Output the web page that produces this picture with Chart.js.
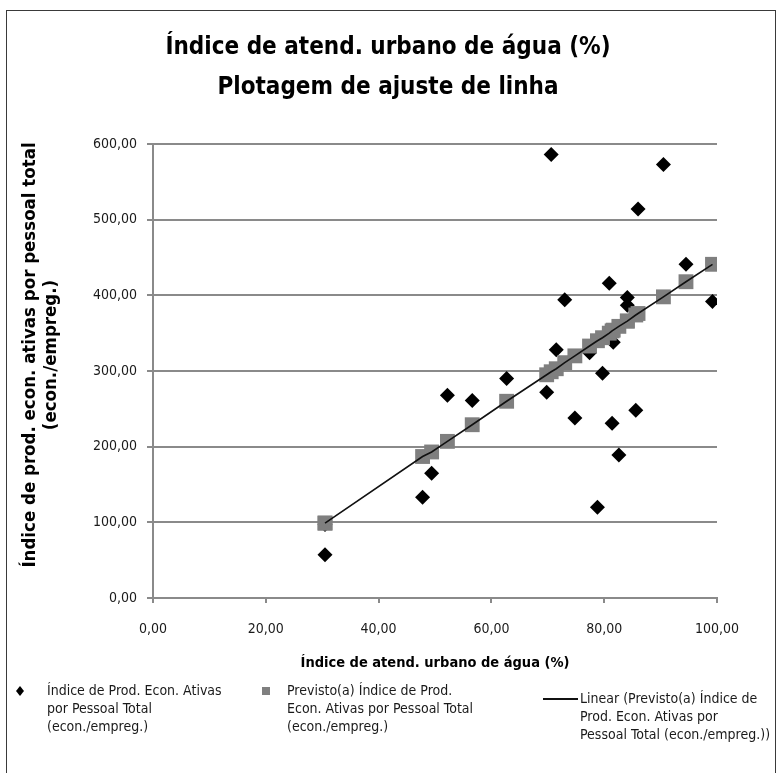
<!DOCTYPE html>
<html>
<head>
<meta charset="utf-8">
<script src="https://cdn.jsdelivr.net/npm/chart.js@4"></script>
<style>
  html, body { margin: 0; padding: 0; background: #fff; }
  #frame { position: absolute; left: 6px; top: 10px; width: 770px; height: 780px; border: 1px solid #3a3a3a; box-sizing: border-box; }
  #wrap { position: absolute; left: 0; top: 0; width: 784px; height: 773px; }
</style>
</head>
<body>
<div id="frame"></div>
<div id="wrap"><canvas id="c"></canvas></div>
<script>
// Índice de atendimento urbano de água (%) por município
const coverage = [30.5, 30.5, 47.8, 49.4, 52.2, 56.6, 62.7, 69.8, 70.6, 71.5, 73.0, 74.8, 77.4,
                  78.8, 79.7, 80.9, 81.4, 81.6, 82.6, 84.1, 84.1, 85.6, 86.0, 90.5, 94.5, 99.2];
// Índice de produtividade: economias ativas por pessoal total
const productivity = [57, 97, 133, 165, 268, 261, 290, 272, 586, 328, 394, 238, 324,
                      120, 297, 416, 231, 338, 189, 397, 387, 248, 514, 573, 441, 392];
// Valores previstos pela regressão linear
const predicted = [99, 99, 187, 193, 207, 229, 260, 295, 299, 303, 311, 320, 333,
                   340, 344, 350, 353, 354, 359, 366, 366, 374, 376, 398, 418, 441];

const titleLines = ['Índice de atend. urbano de água (%)', 'Plotagem de ajuste de linha'];
const xAxisTitle = 'Índice de atend. urbano de água (%)';
const yAxisTitle = ['Índice de prod. econ. ativas por pessoal total', '(econ./empreg.)'];
const seriesNames = [
  ['Índice de Prod. Econ. Ativas', 'por Pessoal Total', '(econ./empreg.)'],
  ['Previsto(a) Índice de Prod.', 'Econ. Ativas por Pessoal Total', '(econ./empreg.)'],
  ['Linear (Previsto(a) Índice de', 'Prod. Econ. Ativas por', 'Pessoal Total (econ./empreg.))']
];
const xTicks = [0, 20, 40, 60, 80, 100];
const yTicks = [0, 100, 200, 300, 400, 500, 600];

const NARROW = "'Liberation Sans Narrow', 'Arial Narrow', 'DejaVu Sans Condensed', sans-serif";
const GRID = '#8a8a8a';
const fmt = v => v.toFixed(2).replace('.', ',');

// Chart title (centred on the frame) and the two-line rotated y-axis title
const headings = {
  id: 'headings',
  afterDraw(chart) {
    const ctx = chart.ctx;
    ctx.save();
    ctx.fillStyle = '#000';
    ctx.textAlign = 'center';
    ctx.textBaseline = 'middle';
    ctx.font = 'bold 24px ' + NARROW;
    titleLines.forEach((t, k) => ctx.fillText(t, 388, 48 + k * 40));
    ctx.translate(30, 355);
    ctx.rotate(-Math.PI / 2);
    ctx.font = 'bold 18.5px ' + NARROW;
    yAxisTitle.forEach((t, k) => ctx.fillText(t, 0, k * 21));
    ctx.restore();
  }
};

// Legend drawn below the x-axis title, with wrapped multi-line entries
const legendLayout = [
  { marker: 'diamond', mx: 20, tx: 47, y: 691 },
  { marker: 'square',  mx: 266, tx: 287, y: 691 },
  { marker: 'line',    mx: 543, tx: 580, y: 699 }
];
const bottomLegend = {
  id: 'bottomLegend',
  afterDraw(chart) {
    const ctx = chart.ctx;
    ctx.save();
    ctx.font = '14px ' + NARROW;
    ctx.textBaseline = 'middle';
    ctx.textAlign = 'left';
    legendLayout.forEach((it, i) => {
      const ds = chart.data.datasets[i];
      if (it.marker === 'diamond') {
        ctx.fillStyle = ds.backgroundColor;
        ctx.beginPath();
        ctx.moveTo(it.mx, it.y - 5); ctx.lineTo(it.mx + 4, it.y);
        ctx.lineTo(it.mx, it.y + 5); ctx.lineTo(it.mx - 4, it.y);
        ctx.closePath(); ctx.fill();
      } else if (it.marker === 'square') {
        ctx.fillStyle = ds.backgroundColor;
        ctx.fillRect(it.mx - 4, it.y - 4, 8, 8);
      } else {
        ctx.strokeStyle = ds.borderColor;
        ctx.lineWidth = 2;
        ctx.beginPath(); ctx.moveTo(it.mx, it.y); ctx.lineTo(it.tx - 2, it.y); ctx.stroke();
      }
      ctx.fillStyle = '#1a1a1a';
      seriesNames[i].forEach((line, k) => ctx.fillText(line, it.tx, it.y + k * 18));
    });
    ctx.restore();
  }
};

new Chart(document.getElementById('c'), {
  type: 'scatter',
  data: {
    datasets: [
      {
        label: seriesNames[0].join(' '),
        data: coverage.map((x, i) => ({ x, y: productivity[i] })),
        pointStyle: 'rectRot',
        pointRadius: 7.5,
        backgroundColor: '#000000',
        borderColor: '#000000',
        borderWidth: 0,
        order: 3
      },
      {
        label: seriesNames[1].join(' '),
        data: coverage.map((x, i) => ({ x, y: predicted[i] })),
        pointStyle: 'rect',
        pointRadius: 10.5,
        backgroundColor: '#7f7f7f',
        borderColor: '#7f7f7f',
        borderWidth: 0,
        order: 2
      },
      {
        label: seriesNames[2].join(' '),
        data: coverage.map((x, i) => ({ x, y: predicted[i] })),
        showLine: true,
        pointRadius: 0,
        borderColor: '#111111',
        backgroundColor: '#111111',
        borderWidth: 1.6,
        order: 1
      }
    ]
  },
  options: {
    responsive: true,
    maintainAspectRatio: false,
    animation: false,
    events: [],
    layout: { padding: { left: 8, right: 67, top: 144, bottom: 93 } },
    plugins: {
      legend: { display: false },
      tooltip: { enabled: false },
      title: { display: false }
    },
    scales: {
      x: {
        type: 'linear',
        min: 0, max: 100,
        afterBuildTicks: s => { s.ticks = xTicks.map(v => ({ value: v })); },
        afterFit: s => { s.height = 82; },
        grid: { drawOnChartArea: false, drawTicks: true, tickLength: 5, color: GRID, lineWidth: 2 },
        border: { color: GRID, width: 2 },
        ticks: { color: '#1a1a1a', font: { family: NARROW, size: 14 }, padding: 18, callback: v => fmt(v), maxRotation: 0 },
        title: { display: true, text: xAxisTitle, color: '#000', font: { family: NARROW, size: 14.5, weight: 'bold' }, padding: { top: 10, bottom: 8 } }
      },
      y: {
        type: 'linear',
        min: 0, max: 600,
        afterBuildTicks: s => { s.ticks = yTicks.map(v => ({ value: v })); },
        afterFit: s => { s.width = 145; },
        grid: { drawOnChartArea: true, drawTicks: true, tickLength: 6, color: GRID, lineWidth: 2 },
        border: { color: GRID, width: 2 },
        ticks: { color: '#1a1a1a', font: { family: NARROW, size: 14 }, padding: 10, callback: v => fmt(v) },
        title: { display: false }
      }
    }
  },
  plugins: [headings, bottomLegend]
});
</script>
</body>
</html>
